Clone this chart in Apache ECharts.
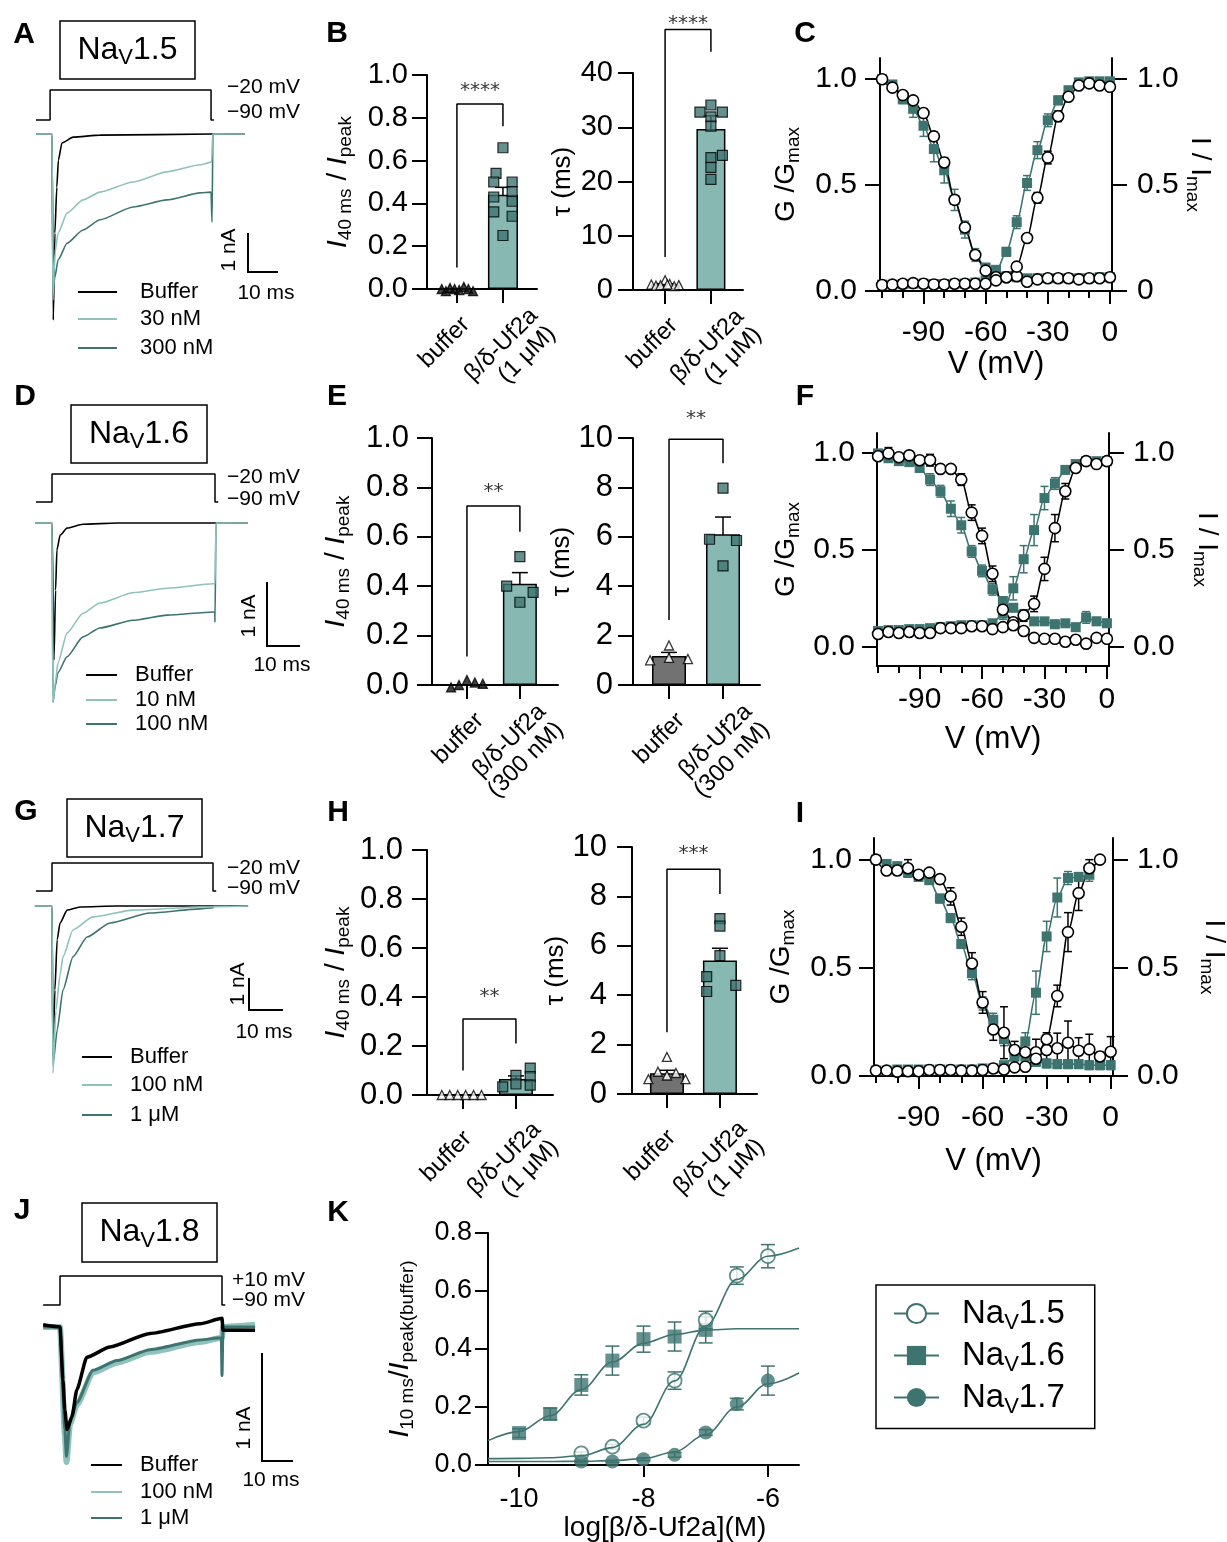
<!DOCTYPE html>
<html>
<head>
<meta charset="utf-8">
<script src="https://cdn.jsdelivr.net/npm/echarts@6/dist/echarts.min.js"></script>
<style>
  html, body { margin: 0; padding: 0; background: #fff; }
  #chart { width: 1227px; height: 1542px; }
</style>
</head>
<body>
<div id="chart"></div>
<script>
// ---------- data ----------
// voltage protocols (ms, mV)
var protoA = [[-5, -90], [-0.6, -90], [-0.6, -20], [49.7, -20], [49.7, -90], [50.6, -90]];
var protoD = [[-4.9, -90], [0, -90], [0, -20], [50, -20], [50, -90], [51, -90]];
var protoG = [[-5, -90], [0, -90], [0, -20], [50, -20], [50, -90], [51, -90]];
var protoJ = [[-5.2, -90], [0, -90], [0, 10], [50, 10], [50, -90], [51, -90]];

// current traces (ms, nA)
var traceABuffer = [[-5, 0], [0, 0], [0.4, -4.77], [0.9, -2.54], [1.5, -1.36], [2.0, -0.67], [3.1, -0.23], [6.6, -0.08], [15, -0.03], [50, 0], [60.3, 0]];
var traceA30 = [[-5, 0], [0, 0], [0.3, -4.26], [0.9, -3.05], [1.9, -2.54], [4.7, -2.03], [9.7, -1.69], [15, -1.49], [25.3, -1.23], [35.9, -0.97], [46.3, -0.79], [49.9, -0.72], [50.2, 0], [60.3, 0]];
var traceA300 = [[-5, 0], [0, 0], [0.3, -4.0], [0.9, -3.67], [1.9, -3.23], [4.7, -2.8], [9.7, -2.46], [15, -2.2], [25.3, -1.87], [35.9, -1.69], [46.3, -1.51], [49.7, -1.49], [50, -2.26], [50.3, 0], [54, 0]];

var traceDBuffer = [[-5.2, 0], [0, 0], [0.6, -2.14], [1.1, -1.05], [1.5, -0.42], [2.5, -0.19], [4.6, -0.08], [9.5, -0.02], [20, 0], [60.1, 0]];
var traceD10 = [[-5.2, 0], [0, 0], [0.3, -2.8], [1.0, -2.5], [1.8, -2.19], [4.6, -1.72], [9.5, -1.41], [14.7, -1.25], [24.8, -1.09], [35.3, -1.02], [49.4, -0.95], [50, -0.95], [50.3, 0], [60.1, 0]];
var traceD100 = [[-5.2, 0], [0, 0], [0.3, -2.8], [1.0, -2.55], [1.8, -2.34], [4.6, -2.09], [9.5, -1.78], [14.7, -1.64], [24.8, -1.52], [35.3, -1.44], [49.4, -1.39], [49.9, -1.39], [50, -1.55], [50.3, 0], [55, 0]];

var traceGBuffer = [[-5.3, 0], [0, 0], [0.3, -4.66], [0.9, -2.63], [1.6, -1.06], [2.5, -0.53], [4.7, -0.13], [8.7, -0.03], [20, 0], [60.9, 0]];
var traceG100 = [[-5.3, 0], [0, 0], [0.3, -5.22], [1.2, -3.25], [2.5, -2.16], [3.4, -1.59], [6.5, -0.75], [12.7, -0.34], [25.2, -0.13], [46, -0.03], [60.9, 0]];
var traceG1000 = [[-5.3, 0], [0, 0], [0.3, -4.97], [1.6, -3.88], [3.4, -2.63], [6.5, -1.59], [10.9, -0.97], [18, -0.53], [30.4, -0.22], [46, -0.09], [50, -0.05], [50.3, 0], [55, 0]];

var traceJBuffer = [[-5.2, 0.02], [0, 0], [0.9, -0.49], [1.5, -0.77], [2.2, -0.95], [3.7, -0.83], [5.2, -0.58], [8.3, -0.28], [15.4, -0.185], [27.8, -0.06], [43.2, 0.03], [50, 0.08], [50.3, -0.03], [60.2, -0.03]];
var traceJ100 = [[-5.2, 0], [0, 0], [1.5, -1.0], [2.0, -1.25], [3.1, -0.9], [5.2, -0.72], [10.2, -0.42], [17.6, -0.33], [27.8, -0.23], [43.2, -0.14], [50, -0.1], [50.3, 0], [60.2, 0.02]];
var traceJ1000 = [[-5.2, 0], [0, 0], [1.5, -0.95], [2.0, -1.2], [3.1, -0.86], [5.2, -0.7], [10.2, -0.4], [17.6, -0.31], [27.8, -0.21], [43.2, -0.12], [49.8, -0.1], [50, -0.45], [50.3, 0], [60.2, 0]];

// bar panels: [buffer, toxin] means and SEM, individual cells
var barCats = ['buffer', 'β/δ-Uf2a'];
var bMean1 = [0, 0.44], bSem1 = [0, 0.035];
var bBuf1 = [0.0, -0.01, 0.005, 0.0, -0.005, 0.01, 0.0, -0.01];
var bUf1 = [0.66, 0.54, 0.50, 0.50, 0.455, 0.43, 0.41, 0.36, 0.34, 0.25];
var bMean2 = [1.0, 29.7], bSem2 = [0.15, 2.4];
var bBuf2 = [1.8, 1.0, 0.8, 0.9, 1.1, 0.7, 0.9, 1.0];
var bUf2 = [32.8, 34.1, 32.8, 31.9, 30.2, 24.8, 24.4, 22.6, 20.4];
var eMean1 = [0, 0.41], eSem1 = [0, 0.045];
var eBuf1 = [-0.01, 0.0, 0.02, 0.01, 0.005];
var eUf1 = [0.52, 0.40, 0.375, 0.335];
var eMean2 = [1.17, 6.1], eSem2 = [0.15, 0.7];
var eBuf2 = [1.6, 1.0, 1.1, 1.05];
var eUf2 = [7.97, 5.9, 5.85, 4.82];
var hMean1 = [0, 0.065], hSem1 = [0, 0.013];
var hBuf1 = [0, 0, 0, 0, 0, 0];
var hUf1 = [0.033, 0.08, 0.045, 0.11, 0.075, 0.04];
var hMean2 = [0.84, 5.4], hSem2 = [0.12, 0.5];
var hBuf2 = [1.5, 0.6, 0.75, 0.6, 0.9, 0.85];
var hUf2 = [7.1, 6.8, 5.6, 4.75, 4.4, 4.15];

// significance brackets [x, y] and star text
var bBracket1 = [[0, 0.1], [0, 0.865], [1, 0.865], [1, 0.76]];
var bBracket2 = [[0, 6.1], [0, 48], [1, 48], [1, 43.9]];
var eBracket1 = [[0, 0.115], [0, 0.725], [1, 0.725], [1, 0.62]];
var eBracket2 = [[0, 2.63], [0, 9.95], [1, 9.95], [1, 8.98]];
var hBracket1 = [[0, 0.10], [0, 0.31], [1, 0.31], [1, 0.21]];
var hBracket2 = [[0, 2.5], [0, 9.1], [1, 9.1], [1, 8.1]];

// voltage steps for C, F, I
var vSteps = [-110, -105, -100, -95, -90, -85, -80, -75, -70, -65, -60, -55, -50, -45, -40, -35, -30, -25, -20, -15, -10, -5, 0];

var cBlackInact = [1.0, 0.96, 0.925, 0.90, 0.84, 0.73, 0.607, 0.43, 0.30, 0.17, 0.096, 0.065, 0.065, 0.07, 0.044, 0.055, 0.06, 0.06, 0.06, 0.055, 0.06, 0.06, 0.065];
var cBlackAct = [0.028, 0.03, 0.034, 0.037, 0.034, 0.031, 0.031, 0.034, 0.034, 0.034, 0.034, 0.05, 0.065, 0.115, 0.25, 0.44, 0.63, 0.825, 0.917, 0.97, 0.98, 0.97, 0.964];
var cTealInact = [1.0, 0.975, 0.905, 0.86, 0.78, 0.67, 0.57, 0.43, 0.29, 0.17, 0.11, 0.10, 0.07, 0.065, 0.06, 0.06, 0.06, 0.06, 0.06, 0.06, 0.06, 0.065, 0.065];
var cTealAct = [0.03, 0.03, 0.032, 0.035, 0.035, 0.033, 0.033, 0.035, 0.035, 0.04, 0.05, 0.09, 0.185, 0.325, 0.51, 0.665, 0.806, 0.90, 0.948, 0.985, 0.99, 0.99, 0.99];
var cBlackInactSem = [0, 0, 0.01, 0.01, 0.02, 0.02, 0.02, 0.02, 0.02, 0.01, 0.01, 0, 0, 0, 0, 0, 0, 0, 0, 0, 0, 0, 0];
var cBlackActSem = [0, 0, 0, 0, 0, 0, 0, 0, 0, 0, 0, 0, 0, 0.01, 0.02, 0.025, 0.03, 0.025, 0.01, 0, 0, 0, 0];
var cTealInactSem = [0, 0.01, 0.02, 0.04, 0.05, 0.06, 0.06, 0.05, 0.04, 0.03, 0.02, 0.01, 0, 0, 0, 0, 0, 0, 0, 0, 0, 0, 0];
var cTealActSem = [0, 0, 0, 0, 0, 0, 0, 0, 0, 0, 0, 0.01, 0.02, 0.03, 0.035, 0.04, 0.03, 0.02, 0.01, 0, 0, 0, 0];

var fBlackInact = [0.98, 0.995, 0.975, 0.985, 0.96, 0.96, 0.915, 0.915, 0.86, 0.69, 0.57, 0.375, 0.19, 0.125, 0.08, 0.045, 0.04, 0.04, 0.025, 0.035, 0.015, 0.045, 0.04];
var fBlackAct = [0.065, 0.075, 0.07, 0.075, 0.07, 0.07, 0.095, 0.095, 0.095, 0.105, 0.105, 0.09, 0.10, 0.11, 0.16, 0.22, 0.40, 0.61, 0.80, 0.92, 0.955, 0.94, 0.955];
var fTealInact = [0.995, 0.97, 0.955, 0.95, 0.92, 0.86, 0.80, 0.71, 0.625, 0.49, 0.39, 0.295, 0.235, 0.2, 0.165, 0.13, 0.13, 0.115, 0.12, 0.10, 0.15, 0.13, 0.12];
var fTealAct = [0.08, 0.085, 0.085, 0.09, 0.09, 0.095, 0.10, 0.105, 0.11, 0.11, 0.11, 0.12, 0.17, 0.30, 0.45, 0.60, 0.765, 0.84, 0.91, 0.94, 0.955, 0.955, 0.955];
var fBlackInactSem = [0, 0.03, 0, 0, 0.02, 0.03, 0, 0.02, 0.03, 0.04, 0.04, 0.04, 0.02, 0.02, 0.01, 0, 0, 0.02, 0.02, 0, 0, 0, 0];
var fBlackActSem = [0, 0, 0, 0, 0, 0, 0, 0, 0, 0, 0, 0, 0, 0, 0.03, 0.04, 0.06, 0.07, 0.04, 0.02, 0.01, 0, 0];
var fTealInactSem = [0, 0, 0, 0, 0.02, 0.03, 0.03, 0.04, 0.04, 0.03, 0.03, 0.03, 0.02, 0.02, 0.02, 0.01, 0.01, 0.02, 0.01, 0.01, 0.03, 0.02, 0.02];
var fTealActSem = [0, 0, 0, 0, 0, 0, 0, 0, 0, 0, 0, 0, 0.03, 0.06, 0.07, 0.08, 0.06, 0.03, 0.02, 0, 0, 0, 0];

var iBlackInact = [1.0, 0.95, 0.95, 0.96, 0.93, 0.94, 0.91, 0.83, 0.69, 0.52, 0.34, 0.215, 0.2, 0.12, 0.11, 0.11, 0.12, 0.128, 0.154, 0.117, 0.123, 0.09, 0.112];
var iBlackAct = [0.025, 0.025, 0.02, 0.022, 0.022, 0.028, 0.028, 0.028, 0.025, 0.025, 0.028, 0.035, 0.03, 0.04, 0.043, 0.08, 0.17, 0.37, 0.665, 0.845, 0.96, 1.0, null];
var iTealInact = [1.0, 0.98, 0.97, 0.94, 0.92, 0.905, 0.82, 0.73, 0.61, 0.475, 0.335, 0.26, 0.17, 0.11, 0.09, 0.066, 0.058, 0.055, 0.055, 0.055, 0.05, 0.05, 0.05];
var iTealAct = [0.025, 0.025, 0.03, 0.03, 0.03, 0.03, 0.03, 0.03, 0.03, 0.03, 0.035, 0.035, 0.05, 0.09, 0.16, 0.385, 0.645, 0.825, 0.915, 0.92, 0.93, null, null];
var iBlackInactSem = [0, 0, 0.02, 0.04, 0, 0, 0.02, 0.04, 0.04, 0.05, 0.05, 0.05, 0.12, 0.04, 0.06, 0.06, 0.07, 0.07, 0.1, 0.06, 0.07, 0.02, 0.07];
var iBlackActSem = [0, 0, 0, 0, 0, 0, 0, 0, 0, 0, 0, 0, 0, 0, 0, 0.02, 0.03, 0.05, 0.09, 0.08, 0.04, 0, 0];
var iTealInactSem = [0, 0.01, 0.01, 0.01, 0.01, 0.01, 0.02, 0.02, 0.02, 0.03, 0.03, 0.03, 0.03, 0.03, 0.02, 0.02, 0.02, 0.02, 0.02, 0.02, 0.02, 0.02, 0.02];
var iTealActSem = [0, 0, 0, 0, 0, 0, 0, 0, 0, 0, 0, 0, 0, 0.02, 0.04, 0.1, 0.07, 0.09, 0.03, 0.02, 0.03, 0, 0];

// K: concentration-response (log M)
var kConc = [-10, -9.5, -9, -8.5, -8, -7.5, -7, -6.5, -6];
var kNav15 = [null, null, 0.04, 0.063, 0.153, 0.291, 0.50, 0.653, 0.72];
var kNav15Sem = [0, 0, 0.005, 0.008, 0.012, 0.03, 0.03, 0.03, 0.04];
var kNav16 = [0.11, 0.176, 0.276, 0.36, 0.434, 0.443, 0.466, null, null];
var kNav16Sem = [0.015, 0.02, 0.035, 0.05, 0.045, 0.05, 0.045, 0, 0];
var kNav17 = [null, null, 0.012, 0.012, 0.02, 0.035, 0.112, 0.21, 0.291];
var kNav17Sem = [0, 0, 0.004, 0.004, 0.005, 0.008, 0.01, 0.02, 0.05];
var kFitX = [-10.5, -10, -9.5, -9, -8.5, -8, -7.5, -7, -6.5, -6, -5.5];
var kFit15 = [0.022, 0.023, 0.025, 0.032, 0.06, 0.14, 0.29, 0.48, 0.64, 0.72, 0.748];
var kFit16 = [0.084, 0.115, 0.17, 0.26, 0.355, 0.42, 0.45, 0.465, 0.47, 0.47, 0.47];
var kFit17 = [0.012, 0.012, 0.012, 0.013, 0.015, 0.022, 0.045, 0.105, 0.2, 0.28, 0.317];

// ---------- styling ----------
var FONT = 'Liberation Sans';
var TEAL = '#3e7470';
var LIGHT = '#8fc2bc';
var BARFILL = '#87b8b2';
var GREY = '#727272';

// jitter of individual cells around column centre
var bBuf1X = [-0.33, -0.24, -0.15, -0.05, 0.05, 0.15, 0.25, 0.35];
var bUf1X = [0, -0.15, -0.2, 0.2, 0.2, -0.2, 0.2, -0.2, 0.2, 0];
var bBuf2X = [0, -0.3, -0.2, -0.1, 0.1, 0.2, 0.3, 0.05];
var bUf2X = [-0.24, 0, 0.25, 0, 0, 0.25, 0, 0, 0];
var eBuf1X = [-0.3, -0.15, 0, 0.15, 0.3];
var eUf1X = [0, -0.25, 0.25, 0];
var eBuf2X = [0, -0.35, 0, 0.35];
var eUf2X = [0, -0.25, 0.25, 0];
var hBuf1X = [-0.4, -0.25, -0.1, 0.05, 0.2, 0.35];
var hUf1X = [-0.25, 0, 0, 0.27, 0.27, 0.27];
var hBuf2X = [0, -0.35, 0, 0.35, -0.17, 0.17];
var hUf2X = [0, 0, 0, -0.25, 0.3, -0.25];

var grids = [], xAxes = [], yAxes = [], series = [], graphics = [];

function addCartesian(g, xa, ya) {
  g.containLabel = false;
  g.outerBoundsMode = 'none';
  grids.push(g);
  var gi = grids.length - 1;
  xa.gridIndex = gi; ya.gridIndex = gi;
  xAxes.push(xa); yAxes.push(ya);
  return { g: gi, x: xAxes.length - 1, y: yAxes.length - 1 };
}

function lineStyleAxis(w) { return { color: '#000', width: w || 2 }; }

function errSeries(xi, yi, data, color, cap, w) {
  series.push({
    type: 'custom', xAxisIndex: xi, yAxisIndex: yi, data: data, clip: false, silent: true,
    encode: { x: 0, y: [1, 2] },
    renderItem: function (params, api) {
      var x = api.value(0);
      var top = api.coord([x, api.value(2)]);
      var bot = api.coord([x, api.value(1)]);
      var st = { stroke: color, lineWidth: w };
      return { type: 'group', children: [
        { type: 'line', shape: { x1: top[0], y1: top[1], x2: bot[0], y2: bot[1] }, style: st },
        { type: 'line', shape: { x1: top[0] - cap, y1: top[1], x2: top[0] + cap, y2: top[1] }, style: st },
        { type: 'line', shape: { x1: bot[0] - cap, y1: bot[1], x2: bot[0] + cap, y2: bot[1] }, style: st }
      ] };
    }
  });
}

var nameRich = {
  it: { fontFamily: FONT, fontSize: 28, fontStyle: 'italic', lineHeight: 34, color: '#000' },
  n: { fontFamily: FONT, fontSize: 28, lineHeight: 34, color: '#000' },
  sub: { fontFamily: FONT, fontSize: 19, verticalAlign: 'bottom', color: '#000' }
};

// ---------- trace panels ----------
function tracePanel(p) {
  var tmin = (p.left - p.x0) / p.ppm, tmax = (p.right - p.x0) / p.ppm;
  var pr = addCartesian({ left: p.left, top: p.protoTop, width: p.right - p.left, height: p.protoBottom - p.protoTop },
    { type: 'value', min: tmin, max: tmax, show: false },
    { type: 'value', min: -90, max: p.vHigh, show: false });
  series.push({ type: 'line', xAxisIndex: pr.x, yAxisIndex: pr.y, data: p.proto, symbol: 'none', clip: false, silent: true,
    lineStyle: { color: '#000', width: 1.5 } });
  var tr = addCartesian({ left: p.left, top: p.top, width: p.right - p.left, height: p.bottom - p.top },
    { type: 'value', min: tmin, max: tmax, show: false },
    { type: 'value', min: -(p.bottom - p.base) / p.ppn, max: (p.base - p.top) / p.ppn, show: false });
  p.traces.forEach(function (t) {
    series.push({ type: 'line', xAxisIndex: tr.x, yAxisIndex: tr.y, data: t.data, symbol: 'none', clip: false, silent: true,
      smooth: 0.2, smoothMonotone: 'x', lineStyle: { color: t.color, width: t.width || 1.6 } });
  });
}

tracePanel({ left: 36, right: 246, x0: 52, ppm: 3.2, protoTop: 90, protoBottom: 120, vHigh: -20, proto: protoA,
  base: 134, ppn: 39, top: 124, bottom: 326,
  traces: [{ data: traceABuffer, color: '#000' }, { data: traceA300, color: TEAL }, { data: traceA30, color: LIGHT }] });
tracePanel({ left: 35, right: 248, x0: 52, ppm: 3.26, protoTop: 474, protoBottom: 502, vHigh: -20, proto: protoD,
  base: 523, ppn: 64, top: 512, bottom: 710,
  traces: [{ data: traceDBuffer, color: '#000' }, { data: traceD100, color: TEAL }, { data: traceD10, color: LIGHT }] });
tracePanel({ left: 35, right: 248, x0: 52, ppm: 3.22, protoTop: 863, protoBottom: 891, vHigh: -20, proto: protoG,
  base: 906, ppn: 32, top: 896, bottom: 1080,
  traces: [{ data: traceGBuffer, color: '#000' }, { data: traceG1000, color: TEAL }, { data: traceG100, color: LIGHT }] });
tracePanel({ left: 43, right: 255, x0: 60, ppm: 3.24, protoTop: 1276, protoBottom: 1305, vHigh: 10, proto: protoJ,
  base: 1327, ppn: 108, top: 1310, bottom: 1470,
  traces: [{ data: traceJ100, color: LIGHT, width: 6 }, { data: traceJ1000, color: TEAL, width: 3 }, { data: traceJBuffer, color: '#000', width: 3.5 }] });

// ---------- bar panels ----------
function barPanel(p) {
  var g = { left: p.left, top: p.top, width: p.width, height: p.height };
  var c = addCartesian(g,
    { type: 'value', min: p.xmin, max: p.xmax, splitLine: { show: false },
      axisLine: { show: true, onZero: false, lineStyle: lineStyleAxis() },
      axisTick: { show: true, customValues: [0, 1], length: 14, lineStyle: lineStyleAxis() },
      axisLabel: { show: false } },
    { type: 'value', min: 0, max: p.ymax, interval: p.yint, splitLine: { show: false },
      axisLine: { show: true, onZero: false, lineStyle: lineStyleAxis() },
      axisTick: { show: true, length: 15, lineStyle: lineStyleAxis() },
      axisLabel: { show: true, margin: p.ym, fontSize: p.fs, fontFamily: FONT, color: '#000',
        formatter: function (v) { return v.toFixed(p.dec); } },
      name: p.yname, nameLocation: 'middle', nameRotate: 90, nameGap: p.ng,
      nameTextStyle: p.rich ? { rich: nameRich, fontFamily: FONT, fontSize: 28, color: '#000' }
                            : { fontFamily: FONT, fontSize: 26, color: '#000' } });
  // rotated category labels sit on an overlaid, wider axis with the same scale
  var ppu = p.width / (p.xmax - p.xmin);
  var extra = 90;
  addCartesian({ left: p.left, top: p.top, width: p.width + extra, height: p.height },
    { type: 'value', min: p.xmin, max: p.xmax + extra / ppu, splitLine: { show: false },
      axisLine: { show: false, onZero: false }, axisTick: { show: false },
      axisLabel: { show: true, hideOverlap: false, customValues: [p.lx[0] / ppu, 1 + p.lx[1] / ppu], rotate: 45,
        margin: p.xm, fontSize: 24, lineHeight: 25, fontFamily: FONT, color: '#000',
        formatter: function (v) { return v < 0.5 ? barCats[0] : barCats[1] + '\n' + p.dose; } } },
    { type: 'value', min: 0, max: 1, show: false });

  var bars = [];
  if (p.mean[0] > 0) bars.push({ value: [0, p.mean[0]], itemStyle: { color: GREY } });
  bars.push({ value: [1, p.mean[1]], itemStyle: { color: BARFILL } });
  series.push({ type: 'bar', xAxisIndex: c.x, yAxisIndex: c.y, barWidth: p.bw, data: bars, silent: true,
    itemStyle: { borderColor: '#000', borderWidth: 1.5 } });
  var err = [];
  [0, 1].forEach(function (i) { if (p.sem[i] > 0) err.push([i, p.mean[i] - p.sem[i], p.mean[i] + p.sem[i]]); });
  errSeries(c.x, c.y, err, '#000', 8, 1.5);
  series.push({ type: 'scatter', xAxisIndex: c.x, yAxisIndex: c.y, clip: false, silent: true, symbol: 'triangle', symbolSize: 9,
    itemStyle: { color: p.triFill || '#fff', borderColor: '#000', borderWidth: 1.3 },
    data: p.buf.map(function (v, i) { return [p.bufX[i], v]; }) });
  series.push({ type: 'scatter', xAxisIndex: c.x, yAxisIndex: c.y, clip: false, silent: true, symbol: 'rect', symbolSize: 10,
    itemStyle: { color: TEAL, borderColor: '#000', borderWidth: 1.2 },
    data: p.uf.map(function (v, i) { return [1 + p.ufX[i], v]; }) });
  series.push({ type: 'line', xAxisIndex: c.x, yAxisIndex: c.y, data: p.bracket, symbol: 'none', clip: false, silent: true,
    lineStyle: { color: '#000', width: 1.5 } });
  series.push({ type: 'scatter', xAxisIndex: c.x, yAxisIndex: c.y, clip: false, silent: true, symbolSize: 0,
    data: [[0.5, p.starY]],
    label: { show: true, position: 'inside', formatter: p.stars, fontFamily: 'DejaVu Sans', fontSize: 20, color: '#000' } });
}

var yNameFrac = '{it|I}{sub|40 ms}{n| / }{it|I}{sub|peak}';
barPanel({ left: 427, width: 110, top: 75, height: 214, xmin: -0.65, xmax: 1.74, ymax: 1, yint: 0.2, dec: 1, ym: 19, fs: 29,
  ng: 72, yname: yNameFrac, rich: true, dose: '(1 μM)', bw: 30, mean: bMean1, sem: bSem1, lx: [9, 40], xm: 32, triFill: '#111',
  buf: bBuf1, bufX: bBuf1X, uf: bUf1, ufX: bUf1X, bracket: bBracket1, stars: '****', starY: 0.925 });
barPanel({ left: 633, width: 110, top: 73, height: 217, xmin: -0.7, xmax: 1.7, ymax: 40, yint: 10, dec: 0, ym: 20, fs: 29,
  ng: 57, yname: 'τ (ms)', rich: false, dose: '(1 μM)', bw: 29, mean: bMean2, sem: bSem2, lx: [9, 38], xm: 32,
  buf: bBuf2, bufX: bBuf2X, uf: bUf2, ufX: bUf2X, bracket: bBracket2, stars: '****', starY: 49.06 });
barPanel({ left: 432, width: 126, top: 438, height: 247, xmin: -0.66, xmax: 1.72, ymax: 1, yint: 0.2, dec: 1, ym: 23, fs: 31,
  ng: 79, yname: yNameFrac, rich: true, dose: '(300 nM)', bw: 34, mean: eMean1, sem: eSem1, lx: [13, 31], xm: 32, triFill: '#111',
  buf: eBuf1, bufX: eBuf1X, uf: eUf1, ufX: eUf1X, bracket: eBracket1, stars: '**', starY: 0.784 });
barPanel({ left: 633, width: 127, top: 438, height: 247, xmin: -0.667, xmax: 1.685, ymax: 10, yint: 2, dec: 0, ym: 20, fs: 31,
  ng: 49, yname: 'τ (ms)', rich: false, dose: '(300 nM)', bw: 34, mean: eMean2, sem: eSem2, lx: [12, 34], xm: 32,
  buf: eBuf2, bufX: eBuf2X, uf: eUf2, ufX: eUf2X, bracket: eBracket2, stars: '**', starY: 10.77 });
barPanel({ left: 427, width: 126, top: 850, height: 245, xmin: -0.68, xmax: 1.70, ymax: 1, yint: 0.2, dec: 1, ym: 24, fs: 31,
  ng: 74, yname: yNameFrac, rich: true, dose: '(1 μM)', bw: 34, mean: hMean1, sem: hSem1, lx: [5, 30], xm: 40,
  buf: hBuf1, bufX: hBuf1X, uf: hUf1, ufX: hUf1X, bracket: hBracket1, stars: '**', starY: 0.40 });
barPanel({ left: 632, width: 125, top: 847, height: 247, xmin: -0.66, xmax: 1.70, ymax: 10, yint: 2, dec: 0, ym: 25, fs: 31,
  ng: 56, yname: 'τ (ms)', rich: false, dose: '(1 μM)', bw: 34, mean: hMean2, sem: hSem2, lx: [5, 32], xm: 40,
  buf: hBuf2, bufX: hBuf2X, uf: hUf2, ufX: hUf2X, bracket: hBracket2, stars: '***', starY: 9.72 });

// ---------- voltage-dependence panels ----------
var ticks10 = [-110, -100, -90, -80, -70, -60, -50, -40, -30, -20, -10, 0];
var ticks30 = [-90, -60, -30, 0];

function vpts(arr) { return vSteps.map(function (v, i) { return [v, arr[i]]; }); }
function epts(arr, sem) {
  var out = [];
  vSteps.forEach(function (v, i) { if (sem[i] > 0 && arr[i] != null) out.push([v, arr[i] - sem[i], arr[i] + sem[i]]); });
  return out;
}

function ivPanel(p) {
  var g = { left: p.left, top: p.top, width: p.width, height: p.height };
  var yCommon = function (pos) {
    return { type: 'value', position: pos, min: p.ymin, max: p.ymax, splitLine: { show: false },
      axisLine: { show: true, onZero: false, lineStyle: lineStyleAxis() },
      axisTick: { show: true, customValues: [0, 0.5, 1], length: 15, lineStyle: lineStyleAxis() },
      axisLabel: { show: true, customValues: [0, 0.5, 1], margin: pos === 'left' ? p.ylm : p.yrm, fontSize: 30,
        fontFamily: FONT, color: '#000',
        formatter: function (v) { return (pos === 'right' && p.zeroPlain && v === 0) ? '0' : v.toFixed(1); } },
      nameLocation: 'middle',
      nameTextStyle: { rich: nameRich, fontFamily: FONT, fontSize: 26, color: '#000' } };
  };
  var yl = yCommon('left');
  yl.name = '{n|G /G}{sub|max}'; yl.nameRotate = 90; yl.nameGap = p.lng;
  var c = addCartesian(g,
    { type: 'value', min: p.xmin, max: p.xmax, splitLine: { show: false },
      axisLine: { show: true, onZero: false, lineStyle: lineStyleAxis() },
      axisTick: { show: true, customValues: ticks10, length: 7, lineStyle: lineStyleAxis() },
      axisLabel: { show: true, customValues: ticks30, margin: p.xlm, fontSize: 30, fontFamily: FONT, color: '#000' },
      name: 'V (mV)', nameLocation: 'middle', nameGap: p.xng,
      nameTextStyle: { fontFamily: FONT, fontSize: 31, color: '#000' } },
    yl);
  var yr = yCommon('right');
  yr.gridIndex = c.g; yr.name = '{n|I / I}{sub|max}'; yr.nameRotate = -90; yr.nameGap = p.rng;
  yAxes.push(yr);
  // longer ticks at labelled voltages
  addCartesian({ left: p.left, top: p.top, width: p.width, height: p.height },
    { type: 'value', min: p.xmin, max: p.xmax, splitLine: { show: false }, axisLine: { show: false, onZero: false },
      axisTick: { show: true, customValues: ticks30, length: 13, lineStyle: lineStyleAxis() }, axisLabel: { show: false } },
    { type: 'value', min: 0, max: 1, show: false });

  var tealStyle = { type: 'line', xAxisIndex: c.x, yAxisIndex: c.y, clip: false, silent: true, smooth: 0.3, smoothMonotone: 'x',
    symbol: 'rect', symbolSize: 10, itemStyle: { color: TEAL }, lineStyle: { color: TEAL, width: 1.6 } };
  var blackStyle = { type: 'line', xAxisIndex: c.x, yAxisIndex: c.y, clip: false, silent: true, smooth: 0.3, smoothMonotone: 'x',
    symbol: 'circle', symbolSize: 11, itemStyle: { color: '#fff', borderColor: '#000', borderWidth: 1.6 },
    lineStyle: { color: '#000', width: 1.6 } };
  errSeries(c.x, c.y, epts(p.tealInact, p.tealInactSem), TEAL, 4, 1.5);
  errSeries(c.x, c.y, epts(p.tealAct, p.tealActSem), TEAL, 4, 1.5);
  series.push(Object.assign({}, tealStyle, { data: vpts(p.tealInact) }));
  series.push(Object.assign({}, tealStyle, { data: vpts(p.tealAct) }));
  errSeries(c.x, c.y, epts(p.blackInact, p.blackInactSem), '#000', 4, 1.5);
  errSeries(c.x, c.y, epts(p.blackAct, p.blackActSem), '#000', 4, 1.5);
  series.push(Object.assign({}, blackStyle, { data: vpts(p.blackInact) }));
  series.push(Object.assign({}, blackStyle, { data: vpts(p.blackAct) }));
}

ivPanel({ left: 880, width: 232, top: 58, height: 233, xmin: -111, xmax: 1, ymin: 0, ymax: 1.1,
  xlm: 27, xng: 55, ylm: 23, yrm: 25, lng: 77, rng: 71, zeroPlain: true,
  blackInact: cBlackInact, blackAct: cBlackAct, tealInact: cTealInact, tealAct: cTealAct,
  blackInactSem: cBlackInactSem, blackActSem: cBlackActSem, tealInactSem: cTealInactSem, tealActSem: cTealActSem });
ivPanel({ left: 877, width: 232, top: 433, height: 233, xmin: -110.5, xmax: 1, ymin: -0.1, ymax: 1.1,
  xlm: 19, xng: 58, ylm: 22, yrm: 24, lng: 74, rng: 81, zeroPlain: false,
  blackInact: fBlackInact, blackAct: fBlackAct, tealInact: fTealInact, tealAct: fTealAct,
  blackInactSem: fBlackInactSem, blackActSem: fBlackActSem, tealInactSem: fTealInactSem, tealActSem: fTealActSem });
ivPanel({ left: 874, width: 239, top: 838, height: 238, xmin: -110.9, xmax: 1.1, ymin: 0, ymax: 1.1,
  xlm: 27, xng: 70, ylm: 22, yrm: 24, lng: 76, rng: 84, zeroPlain: false,
  blackInact: iBlackInact, blackAct: iBlackAct, tealInact: iTealInact, tealAct: iTealAct,
  blackInactSem: iBlackInactSem, blackActSem: iBlackActSem, tealInactSem: iTealInactSem, tealActSem: iTealActSem });

// ---------- K: concentration response ----------
var kc = addCartesian({ left: 488, width: 311, top: 1233, height: 232 },
  { type: 'value', min: -10.5, max: -5.5, splitLine: { show: false },
    axisLine: { show: true, onZero: false, lineStyle: lineStyleAxis() },
    axisTick: { show: true, customValues: [-10, -8, -6], length: 12, lineStyle: lineStyleAxis() },
    axisLabel: { show: true, customValues: [-10, -8, -6], margin: 21, fontSize: 27, fontFamily: FONT, color: '#000' },
    name: 'log[β/δ-Uf2a](M)', nameLocation: 'middle', nameGap: 46,
    nameTextStyle: { fontFamily: FONT, fontSize: 28, color: '#000', padding: [0, 0, 0, 43] } },
  { type: 'value', min: 0, max: 0.8, interval: 0.2, splitLine: { show: false },
    axisLine: { show: true, onZero: false, lineStyle: lineStyleAxis() },
    axisTick: { show: true, length: 13, lineStyle: lineStyleAxis() },
    axisLabel: { show: true, margin: 16, fontSize: 27, fontFamily: FONT, color: '#000',
      formatter: function (v) { return v.toFixed(1); } },
    name: '{it|I}{sub|10 ms}{n|/}{it|I}{sub|peak(buffer)}', nameLocation: 'middle', nameRotate: 90, nameGap: 71,
    nameTextStyle: { rich: nameRich, fontFamily: FONT, fontSize: 28, color: '#000' } });

function kpts(xs, ys) { var o = []; xs.forEach(function (x, i) { if (ys[i] != null) o.push([x, ys[i]]); }); return o; }
function kerr(ys, sem) { var o = []; kConc.forEach(function (x, i) { if (ys[i] != null && sem[i] > 0) o.push([x, ys[i] - sem[i], ys[i] + sem[i]]); }); return o; }

[['NaV1.5', kFit15, 'emptyCircle'], ['NaV1.6', kFit16, 'rect'], ['NaV1.7', kFit17, 'circle']].forEach(function (f) {
  series.push({ type: 'line', name: f[0], xAxisIndex: kc.x, yAxisIndex: kc.y, data: kpts(kFitX, f[1]), smooth: 0.35,
    smoothMonotone: 'x', showSymbol: false, symbol: f[2], symbolSize: 14, clip: false, silent: true,
    itemStyle: { color: TEAL }, lineStyle: { color: TEAL, width: 1.6 } });
});
errSeries(kc.x, kc.y, kerr(kNav16, kNav16Sem), TEAL, 7, 1.5);
errSeries(kc.x, kc.y, kerr(kNav15, kNav15Sem), TEAL, 7, 1.5);
errSeries(kc.x, kc.y, kerr(kNav17, kNav17Sem), TEAL, 7, 1.5);
series.push({ type: 'scatter', xAxisIndex: kc.x, yAxisIndex: kc.y, data: kpts(kConc, kNav16), symbol: 'rect', symbolSize: 14,
  silent: true, clip: false, itemStyle: { color: TEAL } });
series.push({ type: 'scatter', xAxisIndex: kc.x, yAxisIndex: kc.y, data: kpts(kConc, kNav15), symbol: 'circle', symbolSize: 14,
  silent: true, clip: false, itemStyle: { color: '#fff', borderColor: TEAL, borderWidth: 1.8 } });
series.push({ type: 'scatter', xAxisIndex: kc.x, yAxisIndex: kc.y, data: kpts(kConc, kNav17), symbol: 'circle', symbolSize: 14,
  silent: true, clip: false, itemStyle: { color: TEAL } });

// ---------- annotations ----------
function addText(x, y, text, o) {
  o = o || {};
  graphics.push({ type: 'text', x: x, y: y, rotation: o.rot || 0, silent: true,
    style: { text: text, fill: '#000', fontFamily: FONT, fontSize: o.size || 21, fontWeight: o.bold ? 'bold' : 'normal',
      textAlign: o.align || 'center', align: o.align || 'center', textVerticalAlign: 'middle', verticalAlign: 'middle',
      rich: o.rich } });
}
function addPoly(points, color, w) {
  graphics.push({ type: 'polyline', silent: true, shape: { points: points }, style: { stroke: color || '#000', lineWidth: w || 2, fill: null } });
}
function addBox(x, y, w, h) {
  graphics.push({ type: 'rect', silent: true, shape: { x: x, y: y, width: w, height: h }, style: { stroke: '#000', lineWidth: 1.5, fill: null } });
}

[['A', 24, 35], ['B', 337, 34], ['C', 805, 34], ['D', 25, 397], ['E', 337, 397], ['F', 805, 397],
 ['G', 26, 812], ['H', 338, 813], ['I', 800, 814], ['J', 22, 1211], ['K', 338, 1213]].forEach(function (l) {
  addText(l[1], l[2], l[0], { size: 30, bold: true });
});

var titleRich = {
  a: { fontFamily: FONT, fontSize: 32, lineHeight: 38, color: '#000', fill: '#000' },
  s: { fontFamily: FONT, fontSize: 22, verticalAlign: 'bottom', color: '#000', fill: '#000' }
};
[[60, 21, 135, 58, '1.5'], [71, 405, 136, 58, '1.6'], [67, 799, 135, 58, '1.7'], [82, 1203, 135, 59, '1.8']].forEach(function (b) {
  addBox(b[0], b[1], b[2], b[3]);
  addText(b[0] + b[2] / 2, b[1] + b[3] / 2, '{a|Na}{s|V}{a|' + b[4] + '}', { rich: titleRich });
});

// protocol labels
[[227, 87, '−20 mV'], [227, 112, '−90 mV'], [227, 477, '−20 mV'], [227, 499, '−90 mV'],
 [227, 868, '−20 mV'], [227, 888, '−90 mV'], [232, 1280, '+10 mV'], [232, 1300, '−90 mV']].forEach(function (t) {
  addText(t[0], t[1], t[2], { align: 'left', size: 21 });
});

// scale bars
[[[248, 233], [248, 272], [278, 272]], [[267, 582], [267, 646], [300, 646]],
 [[249, 978], [249, 1010], [283, 1010]], [[262, 1353], [262, 1461], [293, 1461]]].forEach(function (pts) { addPoly(pts, '#000', 2); });
[[229, 250], [249, 616], [238, 984], [244, 1428]].forEach(function (p) { addText(p[0], p[1], '1 nA', { rot: Math.PI / 2 }); });
[[266, 293], [282, 665], [264, 1032], [271, 1480]].forEach(function (p) { addText(p[0], p[1], '10 ms'); });

// trace legends
function traceLegend(x1, x2, tx, ys, labels) {
  var cols = ['#000', LIGHT, TEAL];
  ys.forEach(function (y, i) {
    addPoly([[x1, y], [x2, y]], cols[i], 2);
    addText(tx, y, labels[i], { align: 'left', size: 22 });
  });
}
traceLegend(78, 117, 140, [292, 319, 348], ['Buffer', '30 nM', '300 nM']);
traceLegend(86, 117, 135, [675, 700, 724], ['Buffer', '10 nM', '100 nM']);
traceLegend(82, 112, 130, [1057, 1085, 1115], ['Buffer', '100 nM', '1 μM']);
traceLegend(91, 122, 140, [1465, 1492, 1518], ['Buffer', '100 nM', '1 μM']);

var chart = echarts.init(document.getElementById('chart'), null, { renderer: 'canvas' });
chart.setOption({
  animation: false,
  backgroundColor: '#fff',
  textStyle: { fontFamily: FONT },
  grid: grids,
  xAxis: xAxes,
  yAxis: yAxes,
  series: series,
  graphic: graphics,
  legend: {
    data: ['NaV1.5', 'NaV1.6', 'NaV1.7'],
    orient: 'vertical', left: 876, top: 1285, selectedMode: false,
    borderColor: '#000', borderWidth: 1.5, borderRadius: 0,
    padding: [12, 30, 11, 17], itemWidth: 45, itemHeight: 24, itemGap: 5.5,
    formatter: function (name) { return '{a0|Na}{s|V}{a|' + name.slice(3) + '}'; },
    textStyle: { rich: {
      a0: { fontFamily: FONT, fontSize: 33, lineHeight: 40, color: '#000', padding: [0, 0, 0, 18] },
      a: { fontFamily: FONT, fontSize: 33, lineHeight: 40, color: '#000' },
      s: { fontFamily: FONT, fontSize: 22, verticalAlign: 'bottom', color: '#000' }
    } }
  }
});
</script>
</body>
</html>
